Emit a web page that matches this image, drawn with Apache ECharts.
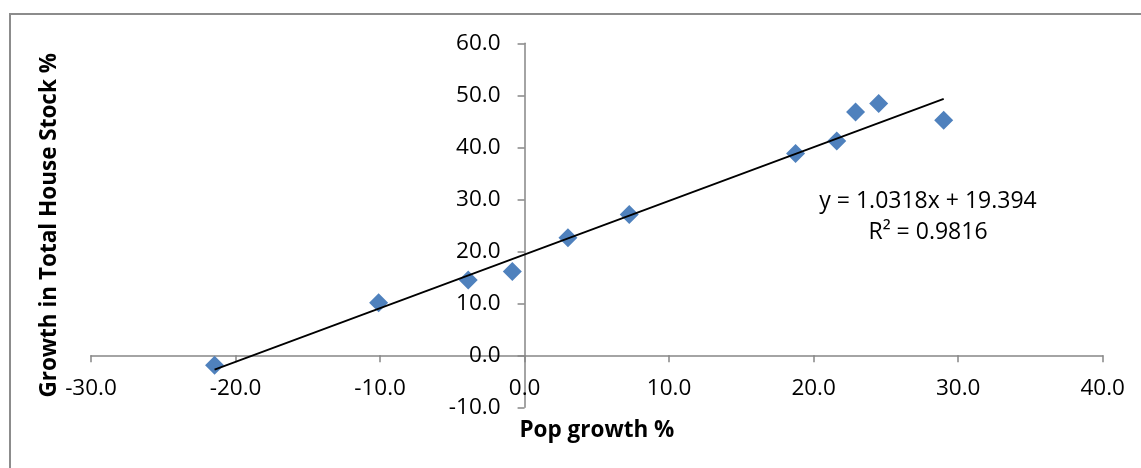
<!DOCTYPE html>
<html>
<head>
<meta charset="utf-8">
<script src="https://cdn.jsdelivr.net/npm/echarts@6/dist/echarts.min.js"></script>
<style>
html,body{margin:0;padding:0;background:#fff;}
#chart{width:1141px;height:468px;}
</style>
</head>
<body>
<div id="chart"></div>
<script>
// Data
const popGrowth   = [-21.45, -10.1, -3.9, -0.85, 3.0, 7.24, 18.75, 21.6, 22.9, 24.5, 29.0];
const houseGrowth = [-1.9, 10.1, 14.5, 16.1, 22.6, 27.1, 38.8, 41.2, 46.8, 48.4, 45.2];
const trendSlope = 1.0318;
const trendIntercept = 19.394;
const trendLabel = 'y = 1.0318x + 19.394';
const r2Label = 'R² = 0.9816';
const xTicks = {min: -30, max: 40, interval: 10};
const yTicks = {min: -10, max: 60, interval: 10};
const xTitle = 'Pop growth %';
const yTitle = 'Growth in Total House Stock %';

const points = popGrowth.map((x, i) => [x, houseGrowth[i]]);
const xMinData = Math.min(...popGrowth);
const xMaxData = Math.max(...popGrowth);
const trend = [
  [xMinData, trendSlope * xMinData + trendIntercept],
  [xMaxData, trendSlope * xMaxData + trendIntercept]
];

const FONT = '"Open Sans", "Liberation Sans", sans-serif';
const axisGray = '#868686';

// grid geometry
const G = {left: 91, right: 38.3, top: 43.3, bottom: 60.7};
const W = 1141, H = 468;
const gw = W - G.left - G.right, gh = H - G.top - G.bottom;
// shift each axis so that it crosses the other at zero (as in the reference)
const yAxisShift = (0 - xTicks.min) / (xTicks.max - xTicks.min) * gw;
const xAxisShift = (0 - yTicks.min) / (yTicks.max - yTicks.min) * gh;

const chart = echarts.init(document.getElementById('chart'), null, {renderer: 'canvas'});
chart.setOption({
  animation: false,
  backgroundColor: '#ffffff',
  grid: Object.assign({containLabel: false, outerBoundsMode: 'none'}, G),
  xAxis: {
    type: 'value', position: 'bottom', offset: -xAxisShift,
    min: xTicks.min, max: xTicks.max, interval: xTicks.interval,
    axisLine: {onZero: false, lineStyle: {color: axisGray, width: 1.5}},
    axisTick: {show: true, length: 7, lineStyle: {color: axisGray, width: 1.5}},
    splitLine: {show: false},
    axisLabel: {
      margin: 22, color: '#000', fontFamily: FONT, fontSize: 22.5,
      formatter: v => v.toFixed(1)
    },
    name: xTitle, nameLocation: 'middle', nameGap: 64,
    nameTextStyle: {color: '#000', fontFamily: FONT, fontSize: 22.5, fontWeight: 'bold'}
  },
  yAxis: {
    type: 'value', position: 'left', offset: -yAxisShift,
    min: yTicks.min, max: yTicks.max, interval: yTicks.interval,
    axisLine: {onZero: false, lineStyle: {color: axisGray, width: 1.5}},
    axisTick: {show: true, length: 7, lineStyle: {color: axisGray, width: 1.5}},
    splitLine: {show: false},
    axisLabel: {
      margin: 24, color: '#000', fontFamily: FONT, fontSize: 22.5,
      formatter: v => v.toFixed(1)
    },
    name: yTitle, nameLocation: 'middle', nameGap: 463, nameRotate: 90,
    nameTextStyle: {color: '#000', fontFamily: FONT, fontSize: 22.5, fontWeight: 'bold'}
  },
  series: [
    {
      type: 'line',
      data: trend,
      showSymbol: false,
      symbol: 'none',
      lineStyle: {color: '#000', width: 1.8},
      z: 3,
      silent: true
    },
    {
      type: 'scatter',
      data: points,
      symbol: 'diamond',
      symbolSize: 19,
      itemStyle: {color: '#4F81BD', opacity: 1},
      z: 2
    }
  ],
  graphic: [
    {
      type: 'rect', z: -1,
      shape: {x: 10, y: 14, width: 1300, height: 600},
      style: {fill: 'none', stroke: '#8c8c8c', lineWidth: 2}
    },
    {
      type: 'text', z: 10,
      style: {text: trendLabel, x: 928, y: 201, fill: '#000', font: '23px ' + FONT, textAlign: 'center', textVerticalAlign: 'middle'}
    },
    {
      type: 'text', z: 10,
      style: {text: r2Label, x: 928, y: 232, fill: '#000', font: '23px ' + FONT, textAlign: 'center', textVerticalAlign: 'middle'}
    }
  ]
});
</script>
</body>
</html>
